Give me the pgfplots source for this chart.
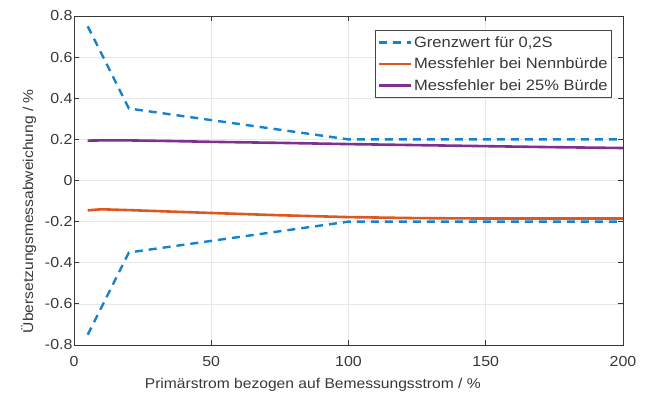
\documentclass[border=0pt]{standalone}
\usepackage{pgfplots}
\pgfplotsset{compat=1.18}
\usepackage{fontspec}
\setmainfont{Liberation Sans}[FakeStretch=1.1]
\definecolor{mblue}{rgb}{0.08,0.51,0.80}
\definecolor{morange}{rgb}{0.87,0.34,0.11}
\definecolor{mpurple}{rgb}{0.50,0.19,0.57}
\definecolor{txt}{rgb}{0.22,0.22,0.22}
\begin{document}
\begin{tikzpicture}
\begin{axis}[
  name=ax,
  scale only axis,
  width=549pt, height=329pt,
  xmin=0, xmax=200, ymin=-0.8, ymax=0.8,
  xtick={0,50,...,200},
  ytick={-0.8,-0.6,...,0.8},
  yticklabel={\ifdim\tick pt=0pt 0\else\pgfmathprintnumber[fixed,fixed zerofill,precision=1]{\tick}\fi},
  /pgf/number format/assume math mode=true,
  tick align=inside,
  major tick length=5pt,
  grid=major,
  grid style={black!9, line width=0.7pt},
  axis line style={txt, line width=0.8pt},
  tick style={txt, line width=0.8pt},
  every tick label/.append style={font=\fontsize{14.5}{16}\selectfont, text=txt},
  xticklabel style={yshift=-8pt},
  yticklabel style={xshift=2pt},
  xlabel={Primärstrom bezogen auf Bemessungsstrom / \%},
  ylabel={Übersetzungsmessabweichung / \%},
  label style={font=\fontsize{14.2}{16}\selectfont, text=txt},
  xlabel style={at={(ticklabel cs:0.435)}, yshift=-5pt},
  ylabel style={at={(ticklabel cs:0.407)}, yshift=2pt},
  legend style={at={(0.98,0.957)}, anchor=north east, font=\fontsize{15}{17}\selectfont, text=txt, draw=txt!80!gray, line width=0.7pt, row sep=5pt, inner xsep=2pt, inner ysep=4pt},
  legend cell align=left,
  legend image code/.code={\draw[#1] (0pt,0pt) -- (32pt,0pt);},
]
\addplot[mblue, line width=2.4pt, dash pattern=on 8pt off 6pt] coordinates {(5,0.75) (20,0.35) (100,0.2) (200,0.2)};
\addlegendentry{Grenzwert für 0,2S}
\addplot[mblue, line width=2.4pt, dash pattern=on 8pt off 6pt, forget plot] coordinates {(5,-0.75) (20,-0.35) (100,-0.2) (200,-0.2)};
\addplot[morange, line width=2.6pt] coordinates {(5,-0.145) (10,-0.140) (20,-0.144) (35,-0.151) (50,-0.158) (75,-0.169) (100,-0.178) (125,-0.183) (150,-0.185) (175,-0.185) (200,-0.185)};
\addlegendentry{Messfehler bei Nennbürde}
\addplot[mpurple, line width=2.6pt] coordinates {(5,0.194) (10,0.195) (20,0.195) (35,0.192) (50,0.188) (75,0.183) (100,0.177) (125,0.172) (150,0.167) (175,0.162) (200,0.158)};
\addlegendentry{Messfehler bei 25\% Bürde}
\end{axis}
\pgfresetboundingbox
\path[use as bounding box] ([shift={(-74pt,-49pt)}]ax.south west) rectangle ([shift={(27pt,16pt)}]ax.north east);
\end{tikzpicture}
\end{document}
